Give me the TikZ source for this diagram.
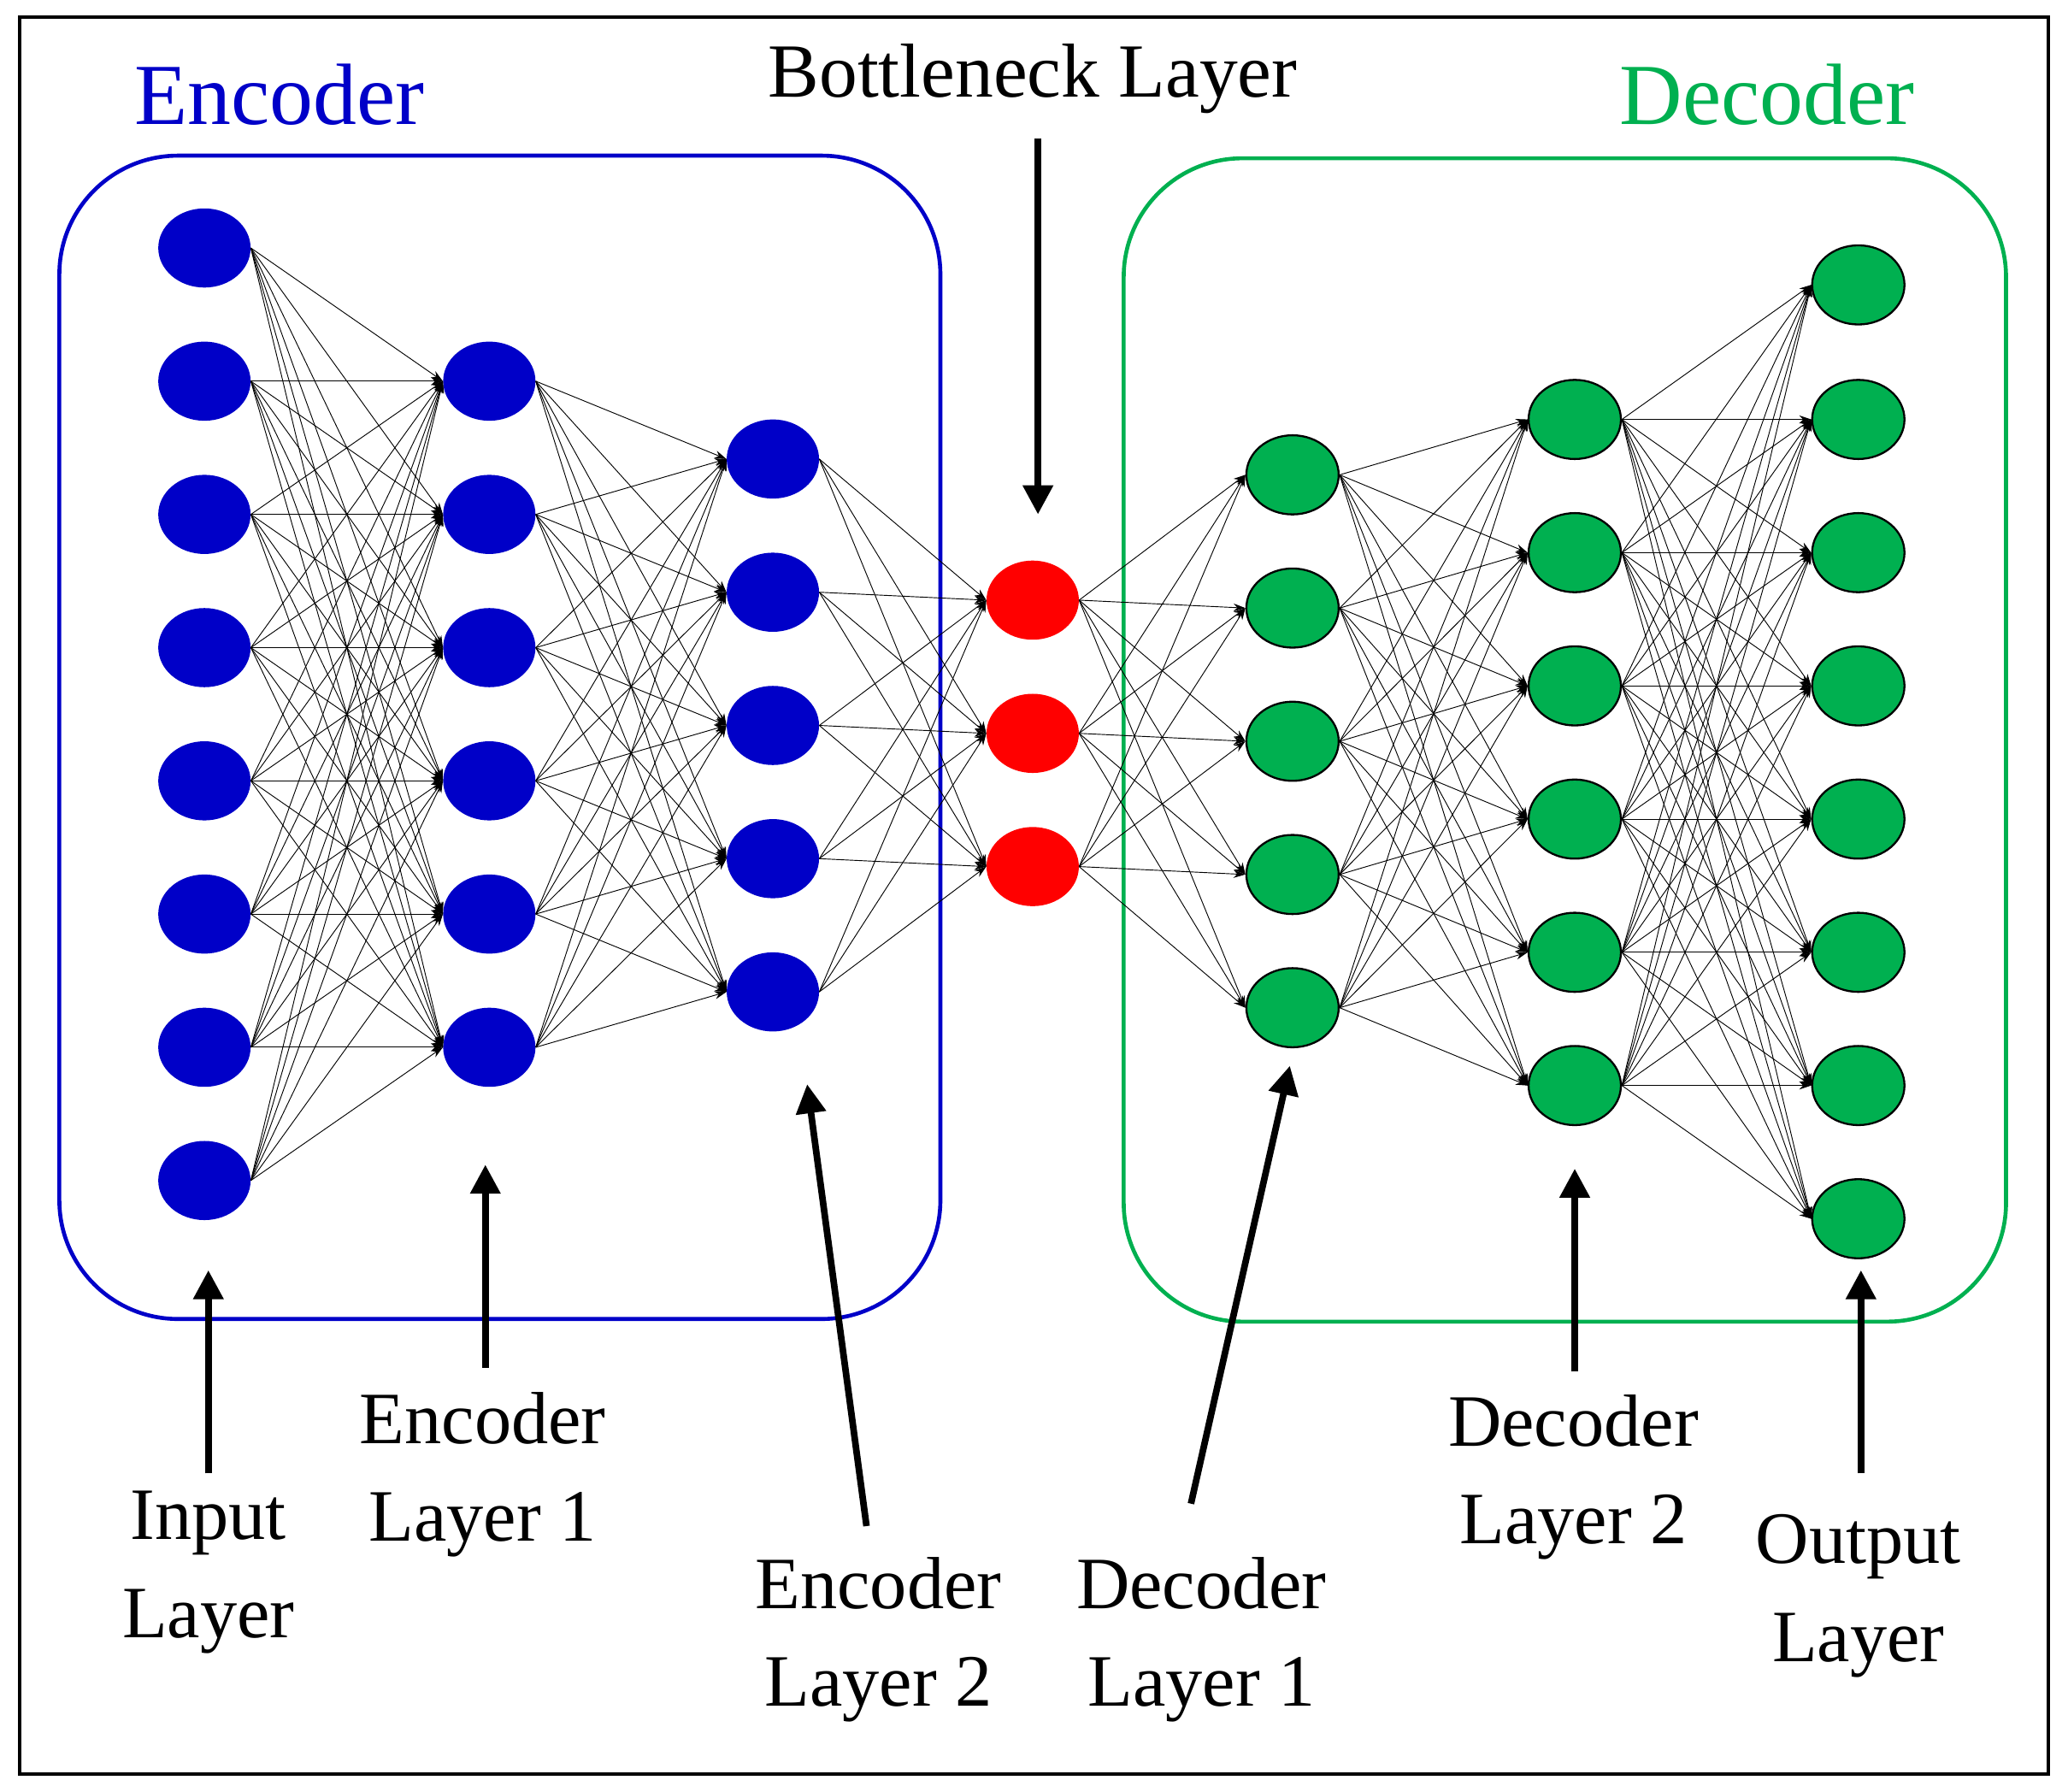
\documentclass[tikz,border=0pt]{standalone}
\usepackage{fontspec}
\setmainfont{Liberation Serif}
\usetikzlibrary{arrows.meta,shapes.geometric}
\definecolor{eblue}{RGB}{0,0,200}
\definecolor{dgreen}{RGB}{0,176,80}
\begin{document}
\begin{tikzpicture}[x=1pt,y=-1pt,
 neu/.style={ellipse,minimum width=70pt,minimum height=60pt,inner sep=0pt},
 en/.style={neu,fill=eblue},
 bn/.style={neu,fill=red},
 dn/.style={neu,fill=dgreen,draw=black,line width=1.5pt},
 conn/.style={line width=0.6pt,-{Stealth[length=9pt,width=6pt]}},
 big/.style={line width=5pt,-{Triangle[length=22pt,width=22pt]}},
 lab/.style={font=\fontsize{56}{74}\selectfont,align=center}]
\useasboundingbox (0,0) rectangle (1568,1358);
\draw[line width=3pt] (15,13) rectangle (1553,1345);
\draw[eblue,line width=3pt,rounded corners=90pt] (45,118) rectangle (713,1000);
\draw[dgreen,line width=3pt,rounded corners=90pt] (852,120) rectangle (1521,1002);
\node[lab,text=eblue,font=\fontsize{66}{70}\selectfont] (tE) at (212,72) {Encoder};
\node[lab,font=\fontsize{58}{64}\selectfont] (tB) at (783,60) {Bottleneck Layer};
\node[lab,text=dgreen,font=\fontsize{66}{70}\selectfont] (tD) at (1340,72) {Decoder};
\foreach \y [count=\i] in {188,289,390,491,592,693,794,895} \node[en] (a\i) at (155,\y) {};
\foreach \y [count=\i] in {289,390,491,592,693,794} \node[en] (b\i) at (371,\y) {};
\foreach \y [count=\i] in {348,449,550,651,752} \node[en] (c\i) at (586,\y) {};
\foreach \y [count=\i] in {455,556,657} \node[bn] (d\i) at (783,\y) {};
\foreach \y [count=\i] in {360,461,562,663,764} \node[dn] (e\i) at (980,\y) {};
\foreach \y [count=\i] in {318,419,520,621,722,823} \node[dn] (f\i) at (1194,\y) {};
\foreach \y [count=\i] in {216,318,419,520,621,722,823,924} \node[dn] (g\i) at (1409,\y) {};
\foreach \i in {1,...,8} \foreach \j in {1,...,6} \draw[conn] (a\i.east) -- (b\j.west);
\foreach \i in {1,...,6} \foreach \j in {1,...,5} \draw[conn] (b\i.east) -- (c\j.west);
\foreach \i in {1,...,5} \foreach \j in {1,...,3} \draw[conn] (c\i.east) -- (d\j.west);
\foreach \i in {1,...,3} \foreach \j in {1,...,5} \draw[conn] (d\i.east) -- (e\j.west);
\foreach \i in {1,...,5} \foreach \j in {1,...,6} \draw[conn] (e\i.east) -- (f\j.west);
\foreach \i in {1,...,6} \foreach \j in {1,...,8} \draw[conn] (f\i.east) -- (g\j.west);
\coordinate (pB) at (787,105);
\coordinate (pI) at (158,1117);
\coordinate (p1) at (368,1037);
\coordinate (p2) at (657,1157);
\coordinate (q1) at (903,1140);
\coordinate (q2) at (1194,1040);
\coordinate (pO) at (1411,1117);
\draw[big] (pB) -- (787,390);
\draw[big] (pI) -- (158,963);
\draw[big] (p1) -- (368,883);
\draw[big] (p2) -- (612,822);
\draw[big] (q1) -- (978,808);
\draw[big] (q2) -- (1194,886);
\draw[big] (pO) -- (1411,963);
\node[lab] (lI) at (158,1192) {Input\\Layer};
\node[lab] (l1) at (366,1118) {Encoder\\Layer 1};
\node[lab] (l2) at (666,1243) {Encoder\\Layer 2};
\node[lab] (m1) at (911,1243) {Decoder\\Layer 1};
\node[lab] (m2) at (1193,1120) {Decoder\\Layer 2};
\node[lab] (lO) at (1409,1210) {Output\\Layer};
\end{tikzpicture}
\end{document}
